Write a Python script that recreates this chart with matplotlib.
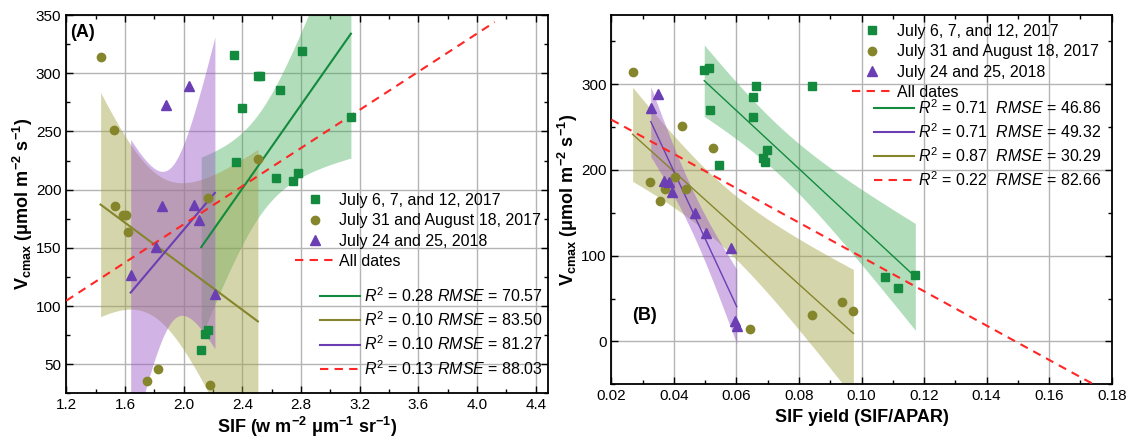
# Vcmax vs SIF (A) and SIF yield (B), linear fits with 95% confidence bands

import numpy as np
import matplotlib
matplotlib.use("Agg")
import matplotlib.pyplot as plt
from matplotlib.lines import Line2D
from matplotlib.ticker import MultipleLocator

plt.rcParams['font.family'] = ['Liberation Sans', 'DejaVu Sans']
plt.rcParams['mathtext.fontset'] = 'custom'
plt.rcParams['mathtext.rm'] = 'Liberation Sans'
plt.rcParams['mathtext.it'] = 'Liberation Sans:italic'
plt.rcParams['mathtext.bf'] = 'Liberation Sans:bold'

# ---- data ----
# panel A : SIF (w m-2 um-1 sr-1)
sif_g = [2.345, 2.505, 2.52, 2.658, 2.399, 2.806, 3.140, 2.354, 2.629, 2.743, 2.781, 2.168, 2.145, 2.120]
vc_g_a = [316, 298, 298, 286, 270, 319, 262, 224, 210, 207, 214, 79, 76, 62]
sif_o = [1.434, 1.527, 1.532, 1.585, 1.605, 1.622, 2.169, 2.506, 1.827, 1.752, 2.177, 2.03]
vc_o_a = [314, 251, 186, 178, 178, 164, 193, 226, 46, 36, 32, 15]
sif_p = [1.879, 2.034, 1.854, 2.070, 2.106, 1.809, 1.639, 2.213, 1.80, 1.82]
vc_p_a = [273, 289, 186, 187, 174, 151, 126.5, 110, 24, 18]

# panel B : SIF yield (SIF/APAR)
yld_g = [0.0497, 0.0513, 0.0662, 0.0654, 0.0514, 0.0654, 0.0545, 0.0699, 0.0685, 0.0692,
         0.0843, 0.1172, 0.1075, 0.1117]
vc_g_b = [316, 319, 298, 285.5, 270, 262, 206, 223, 214, 209, 298, 78, 75.5, 62]
yld_o = [0.0268, 0.0426, 0.0525, 0.0404, 0.0323, 0.0371, 0.0439, 0.0356, 0.0642, 0.0843,
         0.0936, 0.0974]
vc_o_b = [314, 251, 226, 192, 186, 177.5, 177.5, 163.5, 15, 31, 46, 36]
yld_p = [0.0349, 0.0326, 0.0368, 0.0384, 0.0395, 0.0469, 0.0502, 0.0581, 0.0594, 0.0601]
vc_p_b = [289, 272, 187, 186, 174, 150, 126.5, 109, 24, 18]

labels = ['July 6, 7, and 12, 2017', 'July 31 and August 18, 2017', 'July 24 and 25, 2018']
fit_a = ['$R^2$ = 0.28 $RMSE$ = 70.57', '$R^2$ = 0.10 $RMSE$ = 83.50',
         '$R^2$ = 0.10 $RMSE$ = 81.27', '$R^2$ = 0.13 $RMSE$ = 88.03']
fit_b = ['$R^2$ = 0.71  $RMSE$ = 46.86', '$R^2$ = 0.71  $RMSE$ = 49.32',
         '$R^2$ = 0.87  $RMSE$ = 30.29', '$R^2$ = 0.22  $RMSE$ = 82.66']

c_g, c_o, c_p, c_r = '#138a3e', '#85852c', '#6b3fb3', '#ff2626'
band_g, band_o, band_p = '#3daa55', '#a3a346', '#9a58c6'

# two-sided 95% t values by degrees of freedom
t95 = {6: 2.447, 7: 2.365, 8: 2.306, 9: 2.262, 10: 2.228, 11: 2.201, 12: 2.179,
       30: 2.042, 34: 2.032}


def linfit(x, y):
    x = np.asarray(x, float)
    y = np.asarray(y, float)
    b, a = np.polyfit(x, y, 1)
    res = y - (a + b * x)
    n = len(x)
    s = np.sqrt(np.sum(res ** 2) / (n - 2))
    return a, b, s, x.mean(), np.sum((x - x.mean()) ** 2), n


def draw_fit(ax, x, y, col, bcol, lw, alpha):
    a, b, s, xm, sxx, n = linfit(x, y)
    xx = np.linspace(min(x), max(x), 100)
    yy = a + b * xx
    hw = t95[n - 2] * s * np.sqrt(1.0 / n + (xx - xm) ** 2 / sxx)
    ax.fill_between(xx, yy - hw, yy + hw, color=bcol, alpha=alpha, lw=0, zorder=1)
    ax.plot(xx, yy, color=col, lw=lw, zorder=3)


def draw_all(ax, x, y, xlim):
    a, b, s, xm, sxx, n = linfit(x, y)
    xx = np.array(xlim)
    ax.plot(xx, a + b * xx, color=c_r, lw=1.5, dashes=(4, 3), zorder=3)


def draw_pts(ax, x, y, fmt, col, ms, ymin):
    # points below the axis floor are used by the fits but not drawn
    x = np.asarray(x)
    y = np.asarray(y)
    keep = y >= ymin
    ax.plot(x[keep], y[keep], fmt, color=col, ms=ms, zorder=4)


def style(ax):
    ax.tick_params(which='both', direction='in', top=True, right=True, labelsize=11)
    ax.tick_params(which='major', length=5, width=1)
    ax.tick_params(which='minor', length=3, width=1)
    ax.grid(True, which='major', color='#b4b4b4', lw=1, zorder=0)
    ax.set_axisbelow(True)
    for sp in ax.spines.values():
        sp.set_linewidth(1.3)


fig = plt.figure(figsize=(11.29, 4.4), dpi=100)
ax1 = fig.add_axes([0.0587, 0.1061, 0.4269, 0.8598])
ax2 = fig.add_axes([0.5415, 0.1266, 0.4432, 0.8382])

# ---- panel A ----
xl_a = (1.2, 4.485)
draw_fit(ax1, sif_g, vc_g_a, c_g, band_g, 1.5, 0.4)
draw_fit(ax1, sif_o, vc_o_a, c_o, band_o, 1.5, 0.45)
draw_fit(ax1, sif_p, vc_p_a, c_p, band_p, 1.5, 0.45)
draw_all(ax1, sif_g + sif_o + sif_p, vc_g_a + vc_o_a + vc_p_a, (1.2, 4.12))
draw_pts(ax1, sif_g, vc_g_a, 's', c_g, 5.5, 25)
draw_pts(ax1, sif_o, vc_o_a, 'o', c_o, 6, 25)
draw_pts(ax1, sif_p, vc_p_a, '^', c_p, 6.5, 25)
ax1.set_xlim(xl_a)
ax1.set_ylim(25, 350)
ax1.xaxis.set_minor_locator(MultipleLocator(0.2))
ax1.yaxis.set_major_locator(MultipleLocator(50))
ax1.yaxis.set_minor_locator(MultipleLocator(25))
ax1.set_xticks(np.arange(1.2, 4.41, 0.4))
ax1.set_xticklabels(['%.1f' % v for v in np.arange(1.2, 4.41, 0.4)])
style(ax1)
ax1.set_xlabel(r'SIF (w m$^{\mathbf{-2}}$ $\mathbf{\mu}$m$^{\mathbf{-1}}$ sr$^{\mathbf{-1}}$)',
               fontsize=13, fontweight='bold', labelpad=2)
ax1.set_ylabel(r'V$_{\mathbf{cmax}}$ ($\mathbf{\mu}$mol m$^{\mathbf{-2}}$ s$^{\mathbf{-1}}$)',
               fontsize=13, fontweight='bold', labelpad=1)
ax1.text(0.008, 0.975, '(A)', transform=ax1.transAxes, fontsize=13, fontweight='bold',
         va='top', ha='left')

mk = [Line2D([], [], ls='', marker='s', color=c_g, ms=5.5),
      Line2D([], [], ls='', marker='o', color=c_o, ms=6),
      Line2D([], [], ls='', marker='^', color=c_p, ms=6.5),
      Line2D([], [], color=c_r, lw=1.5, dashes=(4, 3))]
ln = [Line2D([], [], color=c_g, lw=1.5), Line2D([], [], color=c_o, lw=1.5),
      Line2D([], [], color=c_p, lw=1.5), Line2D([], [], color=c_r, lw=1.5, dashes=(4, 3))]

leg1 = ax1.legend(mk, labels + ['All dates'], loc='upper left', frameon=False,
                  bbox_to_anchor=(295 / 1129, 1 - 193 / 440), bbox_transform=fig.transFigure,
                  fontsize=11.5, handlelength=2.5, handletextpad=0.25, labelspacing=0.33,
                  borderpad=0, borderaxespad=0)
ax1.add_artist(leg1)
ax1.legend(ln, fit_a, loc='upper left', frameon=False,
           bbox_to_anchor=(320 / 1129, 1 - 286 / 440), bbox_transform=fig.transFigure,
           fontsize=11.5, handlelength=2.5, handletextpad=0.25, labelspacing=0.35,
           borderpad=0, borderaxespad=0)

# ---- panel B ----
xl_b = (0.02, 0.18)
draw_fit(ax2, yld_g, vc_g_b, c_g, band_g, 1.0, 0.4)
draw_fit(ax2, yld_o, vc_o_b, c_o, band_o, 1.0, 0.45)
draw_fit(ax2, yld_p, vc_p_b, c_p, band_p, 1.0, 0.45)
draw_all(ax2, yld_g + yld_o + yld_p, vc_g_b + vc_o_b + vc_p_b, xl_b)
draw_pts(ax2, yld_g, vc_g_b, 's', c_g, 5.5, -50)
draw_pts(ax2, yld_o, vc_o_b, 'o', c_o, 6, -50)
draw_pts(ax2, yld_p, vc_p_b, '^', c_p, 6.5, -50)
ax2.set_xlim(xl_b)
ax2.set_ylim(-50, 380)
ax2.xaxis.set_minor_locator(MultipleLocator(0.01))
ax2.yaxis.set_minor_locator(MultipleLocator(50))
ax2.set_xticks(np.arange(0.02, 0.181, 0.02))
ax2.set_xticklabels(['%.2f' % v for v in np.arange(0.02, 0.181, 0.02)])
ax2.set_yticks([0, 100, 200, 300])
style(ax2)
ax2.set_xlabel('SIF yield (SIF/APAR)', fontsize=13, fontweight='bold', labelpad=4)
ax2.set_ylabel(r'V$_{\mathbf{cmax}}$ ($\mathbf{\mu}$mol m$^{\mathbf{-2}}$ s$^{\mathbf{-1}}$)',
               fontsize=13, fontweight='bold', labelpad=1)
ax2.text(0.0265, 30, '(B)', fontsize=13, fontweight='bold', va='center', ha='left')

leg2 = ax2.legend(mk, labels + ['All dates'], loc='upper left', frameon=False,
                  bbox_to_anchor=(852 / 1129, 1 - 24 / 440), bbox_transform=fig.transFigure,
                  fontsize=11.5, handlelength=2.5, handletextpad=0.3, labelspacing=0.33,
                  borderpad=0, borderaxespad=0)
ax2.add_artist(leg2)
ax2.legend([ln[0], ln[2], ln[1], ln[3]], fit_b, loc='upper left', frameon=False,
           bbox_to_anchor=(874 / 1129, 1 - 98 / 440), bbox_transform=fig.transFigure,
           fontsize=11.5, handlelength=2.5, handletextpad=0.25, labelspacing=0.33,
           borderpad=0, borderaxespad=0)

fig.savefig('out.png', dpi=100)
